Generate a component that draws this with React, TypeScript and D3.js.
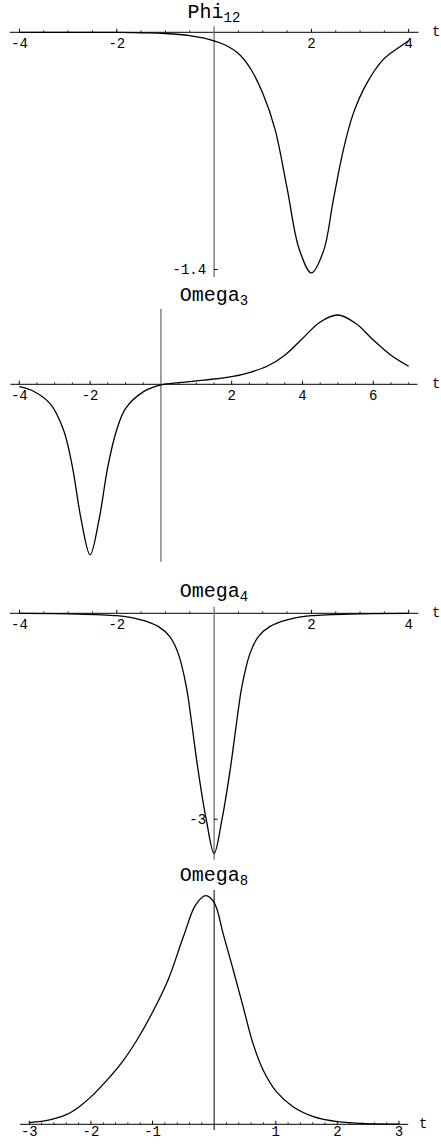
import React from 'react'
import * as d3 from 'd3'

// Phi_12
const phiT = [-4, -3, -2, -1.5, -1, -0.5, 0, 0.25, 0.5, 0.75, 1, 1.25, 1.5, 1.75, 2, 2.25, 2.45, 2.66, 2.86, 3.14, 3.48, 3.82, 4]
const phiV = [0, -0.0005, -0.001, -0.003, -0.007, -0.02, -0.05, -0.078, -0.125, -0.215, -0.36, -0.57, -0.92, -1.28, -1.42, -1.29, -0.99, -0.69, -0.48, -0.3, -0.16, -0.085, -0.05]

// Omega_3
const om3T = [-4, -3.6, -3.13, -2.75, -2.5, -2.25, -2, -1.75, -1.5, -1.25, -1, -0.5, 0, 0.5, 1, 2, 2.5, 3, 3.5, 4, 4.5, 5, 5.5, 6, 6.5, 7]
const om3V = [-0.034, -0.1, -0.28, -0.66, -1.19, -1.96, -2.46, -1.96, -1.19, -0.66, -0.35, -0.11, -0.01, 0.024, 0.048, 0.11, 0.17, 0.26, 0.42, 0.66, 0.9, 1.0, 0.88, 0.64, 0.42, 0.26]

// Omega_4
const om4T = [-4, -3, -2, -1.5, -1.15, -0.91, -0.74, -0.57, -0.47, -0.33, -0.16, 0, 0.16, 0.33, 0.47, 0.57, 0.74, 0.91, 1.15, 1.5, 2, 3, 4]
const om4V = [-0.002, -0.008, -0.035, -0.095, -0.19, -0.34, -0.58, -1.07, -1.55, -2.28, -3.01, -3.5, -3.01, -2.28, -1.55, -1.07, -0.58, -0.34, -0.19, -0.095, -0.035, -0.008, -0.002]

// Omega_8
const om8T = [-3, -2.67, -2.4, -2.2, -2, -1.75, -1.5, -1.25, -1, -0.75, -0.5, -0.3, -0.135, 0, 0.15, 0.31, 0.47, 0.63, 0.79, 1.01, 1.28, 1.61, 2, 2.47, 3]
const om8V = [0.007, 0.019, 0.042, 0.075, 0.12, 0.19, 0.27, 0.37, 0.49, 0.63, 0.82, 0.96, 1.0, 0.97, 0.83, 0.675, 0.515, 0.354, 0.24, 0.143, 0.077, 0.034, 0.012, 0.003, 0.001]

const phiTicks = [-4, -2, 2, 4]
const om3Ticks = [-4, -2, 2, 4, 6]
const om4Ticks = [-4, -2, 2, 4]
const om8Ticks = [-3, -2, -1, 1, 2, 3]
const phiYTicks = [-1.4]
const om4YTicks = [-3]

const mono = '"Liberation Mono", "Courier New", monospace'

type PanelProps = {
  name: string
  sub: string
  ts: number[]
  vs: number[]
  x: d3.ScaleLinear<number, number>
  y: d3.ScaleLinear<number, number>
  xExt: [number, number]
  yExt: [number, number]
  ticks: number[]
  minor: number
  yTicks?: number[]
  vColor: string
  labelDy: number
  titleY: number
  tX: number
}

function Panel(p: PanelProps) {
  const { x, y } = p
  const y0 = y(0)
  const line = d3.line<number>()
    .x((d, i) => x(p.ts[i]))
    .y(d => y(d))
    .curve(d3.curveCatmullRom.alpha(0.5))
  const minors = d3.range(Math.ceil(p.xExt[0] / p.minor), Math.floor(p.xExt[1] / p.minor) + 1)
    .map(k => +(k * p.minor).toFixed(4))
    .filter(v => v !== 0 && !p.ticks.includes(v))
  return (
    <g>
      <text x={214} y={p.titleY} textAnchor="middle" fontFamily={mono} fontSize={20}>
        {p.name}
        <tspan fontSize={14} dy={4}>{p.sub}</tspan>
      </text>
      {/* x axis */}
      <line x1={x(p.xExt[0])} x2={x(p.xExt[1])} y1={y0} y2={y0} stroke="#000" strokeWidth={1} />
      {minors.map(v => (
        <line key={'m' + v} x1={x(v)} x2={x(v)} y1={y0} y2={y0 - 2} stroke="#000" strokeWidth={0.8} />
      ))}
      {p.ticks.map(v => (
        <g key={v}>
          <line x1={x(v)} x2={x(v)} y1={y0} y2={y0 - 3.5} stroke="#000" strokeWidth={1} />
          <text x={x(v)} y={y0 + p.labelDy} textAnchor="middle" fontFamily={mono} fontSize={14}>{v}</text>
        </g>
      ))}
      <text x={p.tX} y={y0 + 4} fontFamily={mono} fontSize={14}>t</text>
      {/* vertical axis */}
      <line x1={x(0)} x2={x(0)} y1={y(p.yExt[1])} y2={y(p.yExt[0])} stroke={p.vColor} strokeWidth={p.vColor === '#000' ? 1 : 1.4} />
      {(p.yTicks || []).map(v => (
        <g key={'y' + v}>
          <line x1={x(0)} x2={x(0) + 3.5} y1={y(v)} y2={y(v)} stroke="#000" strokeWidth={1} />
          <text x={x(0) - 8} y={y(v) + 4.5} textAnchor="end" fontFamily={mono} fontSize={14}>{v}</text>
        </g>
      ))}
      <path d={line(p.vs) || ''} fill="none" stroke="#000" strokeWidth={1.3} />
    </g>
  )
}

export default function App() {
  const x1 = d3.scaleLinear().domain([-4, 4]).range([19.5, 408.7])
  const y1 = d3.scaleLinear().domain([0, -1.4]).range([32.3, 269.5])
  const x2 = d3.scaleLinear().domain([-4, 6]).range([19.3, 373.3])
  const y2 = d3.scaleLinear().domain([0, 1]).range([384.3, 315])
  const x3 = d3.scaleLinear().domain([-4, 4]).range([19.5, 408.7])
  const y3 = d3.scaleLinear().domain([0, -3]).range([613.3, 819.3])
  const x4 = d3.scaleLinear().domain([-3, 3]).range([29.3, 399])
  const y4 = d3.scaleLinear().domain([0, 1]).range([1124.3, 895.7])

  return (
    <svg width={441} height={1145} style={{ position: 'absolute', left: 0, top: 0, background: '#fff' }}>
      <rect width={441} height={1145} fill="#fff" />
      <Panel name="Phi" sub="12" ts={phiT} vs={phiV} x={x1} y={y1} xExt={[-4.2, 4.2]} yExt={[-1.445, 0.035]}
        ticks={phiTicks} minor={0.5} yTicks={phiYTicks} vColor="#7a7a7a" labelDy={16} titleY={18} tX={432} />
      <Panel name="Omega" sub="3" ts={om3T} vs={om3V} x={x2} y={y2} xExt={[-4.25, 7.25]} yExt={[-2.56, 1.087]}
        ticks={om3Ticks} minor={0.5} vColor="#7a7a7a" labelDy={16} titleY={300.5} tX={432} />
      <Panel name="Omega" sub="4" ts={om4T} vs={om4V} x={x3} y={y3} xExt={[-4.2, 4.2]} yExt={[-3.59, 0.096]}
        ticks={om4Ticks} minor={0.5} yTicks={om4YTicks} vColor="#7a7a7a" labelDy={16} titleY={596.5} tX={432} />
      <Panel name="Omega" sub="8" ts={om8T} vs={om8V} x={x4} y={y4} xExt={[-3.15, 3.15]} yExt={[-0.025, 1.025]}
        ticks={om8Ticks} minor={0.2} vColor="#000" labelDy={11.5} titleY={880.5} tX={419} />
    </svg>
  )
}
